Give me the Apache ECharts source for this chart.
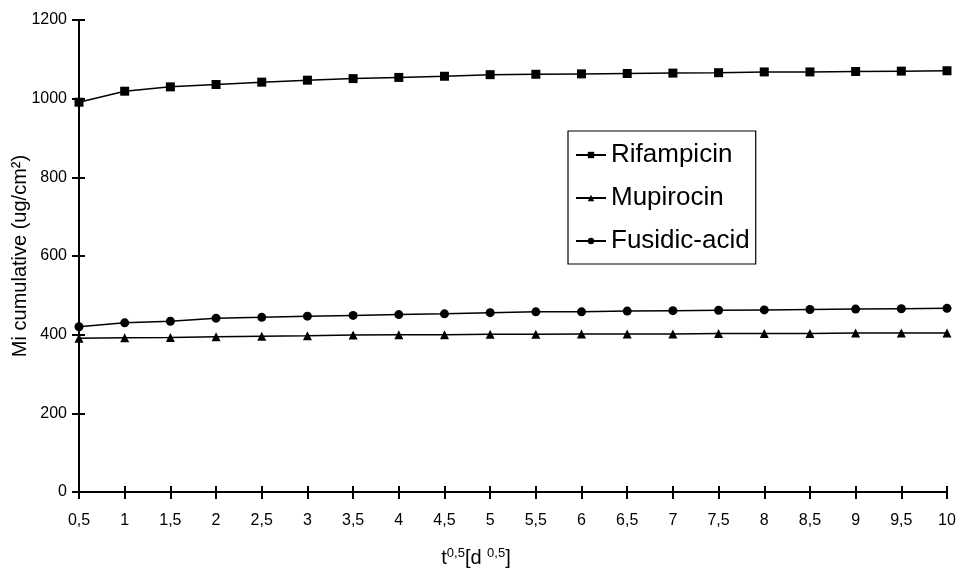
<!DOCTYPE html>
<html><head><meta charset="utf-8">
<script src="https://cdn.jsdelivr.net/npm/echarts@6/dist/echarts.min.js"></script>
<style>html,body{margin:0;padding:0;background:#fff}#c{width:962px;height:570px}</style>
</head><body><div id="c"></div>
<script>
const categories = ['0,5','1','1,5','2','2,5','3','3,5','4','4,5','5','5,5','6','6,5','7','7,5','8','8,5','9','9,5','10'];
const rifampicin = [991,1019,1030,1036,1042,1047,1051,1054,1057,1061,1062,1063,1064,1065,1066,1068,1068,1069,1070,1071];
const mupirocin  = [391,392,393,395,396,397,399,400,400,401,401,402,402,402,403,403,403,404,404,404];
const fusidic    = [420,430,434,442,444,447,449,451,453,456,458,458,460,461,462,463,464,465,466,467];
const yTicks = [0,200,400,600,800,1000,1200];

const font = 'Liberation Sans, Arial, sans-serif';
const chart = echarts.init(document.getElementById('c'));
const baseSeries = (name, data, symbol, size) => ({
  name, type: 'line', data, symbol, symbolSize: size, showSymbol: true,
  lineStyle: {color: '#000', width: 1.5}, itemStyle: {color: '#000'},
  emphasis: {disabled: true}, animation: false, z: 3
});
chart.setOption({
  animation: false,
  backgroundColor: '#fff',
  grid: {left: 79, right: 15, top: 20, bottom: 78, containLabel: false, outerBoundsMode: 'none'},
  legend: {
    orient: 'vertical', left: 568, top: 131,
    padding: [11, 6, 10, 7], itemGap: 17, itemWidth: 30, itemHeight: 8,
    borderColor: '#000', borderWidth: 1.2,
    textStyle: {fontFamily: font, fontSize: 26, color: '#000'},
    data: ['Rifampicin', 'Mupirocin', 'Fusidic-acid']
  },
  xAxis: [{
    type: 'category', data: categories, boundaryGap: false,
    axisLine: {lineStyle: {color: '#000', width: 2}},
    axisTick: {show: true, length: 7, alignWithLabel: true, lineStyle: {color: '#000', width: 2}},
    axisLabel: {fontFamily: font, fontSize: 16, color: '#000', margin: 21},
    name: '{t|t}{s|0,5}{t|[d }{s|0,5}{t|]}', nameLocation: 'middle', nameGap: 55,
    nameTextStyle: {padding: [0, 74, 0, 0], rich: {t: {fontFamily: font, fontSize: 20, color: '#000'}, s: {fontFamily: font, fontSize: 13, color: '#000', verticalAlign: 'top', padding: [0,0,9,0]}}}
  }, {
    type: 'category', data: categories, boundaryGap: false, position: 'bottom',
    axisLine: {show: false},
    axisTick: {show: true, inside: true, length: 6, lineStyle: {color: '#000', width: 2}},
    axisLabel: {show: false}
  }],
  yAxis: [{
    type: 'value', min: 0, max: 1200, interval: 200,
    axisLine: {show: true, lineStyle: {color: '#000', width: 2}},
    axisTick: {show: true, length: 7, lineStyle: {color: '#000', width: 2}},
    splitLine: {show: false},
    axisLabel: {fontFamily: font, fontSize: 16, color: '#000', margin: 12,
      formatter: v => yTicks.includes(v) ? String(v) : ''},
    name: 'Mi cumulative (ug/cm²)', nameLocation: 'middle', nameGap: 49, nameMoveOverlap: false,
    nameTextStyle: {fontFamily: font, fontSize: 20, color: '#000'}
  }, {
    type: 'value', min: 0, max: 1200, interval: 200, position: 'left',
    axisLine: {show: false}, splitLine: {show: false},
    axisTick: {show: true, inside: true, length: 6, lineStyle: {color: '#000', width: 2}},
    axisLabel: {show: false}
  }],
  series: [
    baseSeries('Rifampicin', rifampicin, 'rect', 9),
    baseSeries('Mupirocin', mupirocin, 'triangle', 9),
    baseSeries('Fusidic-acid', fusidic, 'circle', 9)
  ]
});
</script></body></html>
